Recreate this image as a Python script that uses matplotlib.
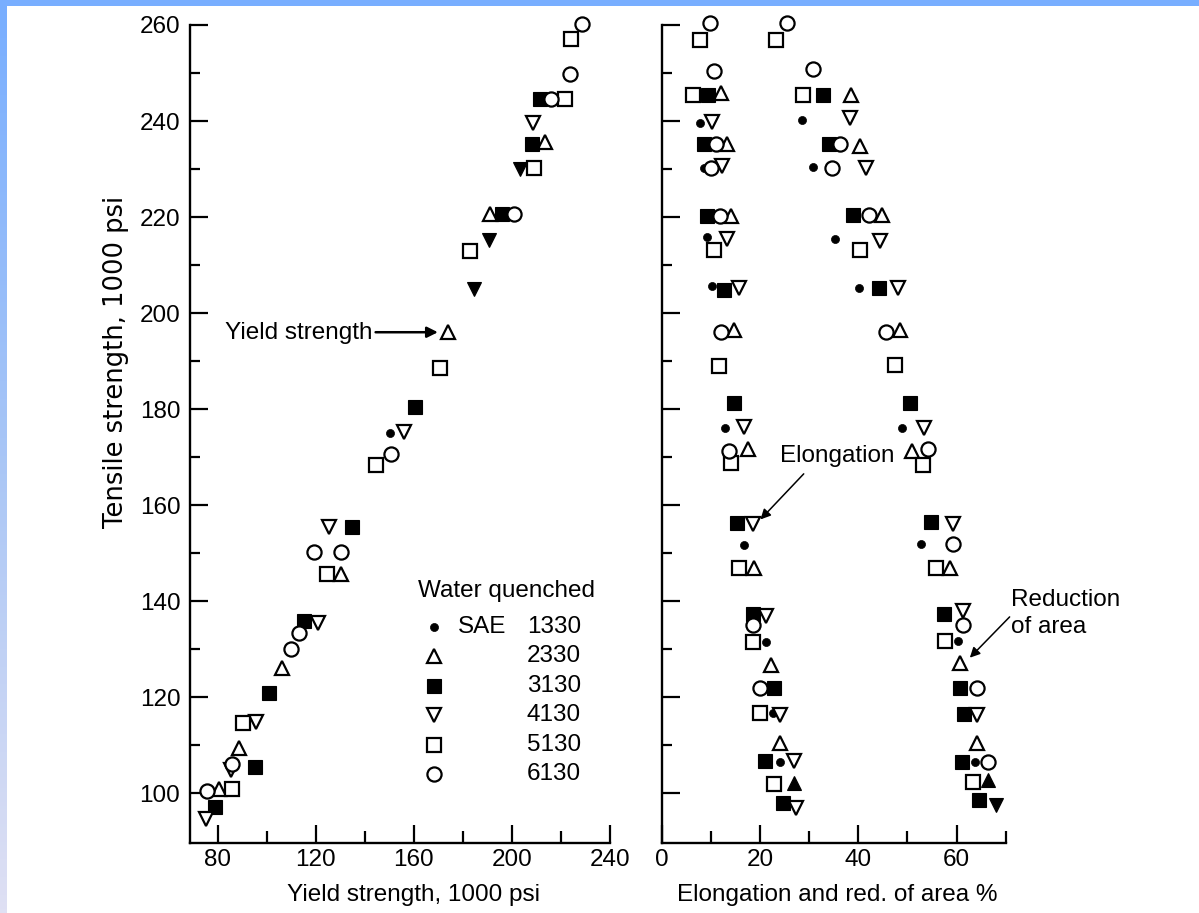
import matplotlib
matplotlib.use('Agg')
import matplotlib.pyplot as plt
import numpy as np
from matplotlib.colors import LinearSegmentedColormap
from matplotlib.patches import Rectangle

plt.rcParams['font.family'] = ['Liberation Sans', 'DejaVu Sans']

# ---------------- data ----------------
# Left panel: yield strength (x) vs tensile strength (y), 1000 psi
ys_1330 = [150.3]
ts_1330 = [175.0]
ys_2330 = [213.6, 190.9, 174.1, 130.3, 106.1, 88.8, 80.7]
ts_2330 = [235.7, 220.6, 196.1, 145.6, 126.0, 109.3, 100.8]
ys_3130 = [211.6, 208.2, 195.9, 160.5, 134.9, 115.2, 101.1, 95.2, 78.9]
ts_3130 = [244.6, 235.3, 220.6, 180.4, 155.5, 135.9, 120.9, 105.5, 97.1]
ys_4130 = [208.6, 156.0, 125.3, 120.8, 95.6, 85.4, 75.2]
ts_4130 = [239.6, 175.3, 155.5, 135.5, 114.9, 104.8, 94.5]
ys_5130 = [224.1, 221.8, 209.1, 183.0, 170.5, 144.5, 124.5, 90.2, 85.7]
ts_5130 = [257.1, 244.6, 230.3, 213.0, 188.6, 168.3, 145.6, 114.6, 100.8]
ys_6130 = [228.6, 223.5, 215.9, 200.7, 150.7, 119.4, 130.3, 113.3, 109.9, 85.7, 75.5]
ts_6130 = [260.2, 249.8, 244.6, 220.6, 170.6, 150.3, 150.3, 133.4, 130.1, 106.0, 100.4]
ys_fill_dn = [203.4, 190.5, 184.7]
ts_fill_dn = [230.1, 215.2, 205.1]

# Right panel: elongation % (x) vs tensile strength (y)
el_1330 = [7.8, 8.7, 9.3, 10.2, 12.9, 16.7, 21.2, 22.6, 24.0]
et_1330 = [239.6, 230.3, 215.9, 205.7, 176.1, 151.7, 131.4, 116.7, 106.4]
el_2330 = [12.1, 13.3, 14.2, 14.8, 17.6, 18.8, 22.2, 24.0]
et_2330 = [245.8, 235.2, 220.2, 196.5, 171.7, 146.8, 126.7, 110.4]
el_3130 = [9.5, 8.7, 9.3, 12.7, 14.8, 15.4, 18.5, 22.9, 21.0, 24.7]
et_3130 = [245.4, 235.2, 220.2, 204.8, 181.2, 156.2, 137.2, 121.8, 106.7, 97.9]
el_4130 = [10.2, 12.2, 13.3, 15.8, 16.8, 18.6, 21.2, 24.0, 26.9, 27.4]
et_4130 = [239.8, 230.7, 215.4, 205.3, 176.2, 156.0, 136.9, 116.3, 106.7, 96.9]
el_5130 = [7.8, 6.3, 10.6, 11.7, 14.2, 15.7, 18.5, 20.1, 22.8]
et_5130 = [256.9, 245.4, 213.1, 189.0, 168.7, 146.8, 131.5, 116.7, 101.8]
el_6130 = [9.8, 10.7, 11.0, 10.0, 11.8, 12.1, 13.7, 18.5, 20.0]
et_6130 = [260.5, 250.4, 235.2, 230.3, 220.2, 196.1, 171.3, 135.0, 121.8]
el_fill_up = [26.9]
et_fill_up = [102.0]

# Right panel: reduction of area % (x) vs tensile strength (y)
ra_1330 = [28.6, 30.8, 35.2, 40.2, 48.8, 52.8, 60.3, 63.7]
rt_1330 = [240.2, 230.5, 215.4, 205.3, 176.1, 151.8, 131.7, 106.4]
ra_2330 = [38.6, 40.4, 44.8, 48.4, 51.0, 58.6, 60.8, 64.1]
rt_2330 = [245.5, 234.8, 220.4, 196.5, 171.3, 146.8, 127.0, 110.4]
ra_3130 = [32.8, 34.0, 39.0, 44.2, 50.5, 54.7, 57.4, 60.6, 61.5, 61.2, 64.5]
rt_3130 = [245.4, 235.2, 220.4, 205.3, 181.3, 156.4, 137.2, 121.8, 116.4, 106.5, 98.5]
ra_4130 = [38.4, 41.5, 44.4, 48.0, 53.3, 59.3, 61.4, 64.2]
rt_4130 = [240.7, 230.3, 215.0, 205.3, 176.1, 156.1, 137.9, 116.3]
ra_5130 = [23.2, 28.8, 40.4, 47.4, 53.2, 55.8, 57.6, 63.3]
rt_5130 = [256.9, 245.4, 213.1, 189.2, 168.4, 146.8, 131.7, 102.4]
ra_6130 = [25.4, 30.8, 36.2, 34.6, 42.2, 45.7, 54.2, 59.3, 61.4, 64.1, 66.3]
rt_6130 = [260.5, 250.8, 235.2, 230.3, 220.4, 196.1, 171.6, 151.8, 135.1, 121.8, 106.5]
ra_fill_up = [66.4]
rt_fill_up = [102.7]
ra_fill_dn = [68.1]
rt_fill_dn = [97.5]

grades = ['1330', '2330', '3130', '4130', '5130', '6130']
x_ticks_left = [80, 120, 160, 200, 240]
x_ticks_right = [0, 20, 40, 60]
y_ticks = [100, 120, 140, 160, 180, 200, 220, 240, 260]

# ---------------- styles ----------------
MEW = 1.6
styles = {
    '1330': dict(marker='o', ms=5.8, mfc='black', mec='black', mew=0.5),
    '2330': dict(marker='^', ms=10.5, mfc='white', mec='black', mew=MEW),
    '3130': dict(marker='s', ms=9.5, mfc='black', mec='black', mew=0.8),
    '4130': dict(marker='v', ms=10.5, mfc='white', mec='black', mew=MEW),
    '5130': dict(marker='s', ms=9.6, mfc='white', mec='black', mew=MEW),
    '6130': dict(marker='o', ms=10.2, mfc='white', mec='black', mew=MEW),
}
fill_dn = dict(marker='v', ms=10, mfc='black', mec='black', mew=0.8)
fill_up = dict(marker='^', ms=10, mfc='black', mec='black', mew=0.8)

left_data = {'1330': (ys_1330, ts_1330), '2330': (ys_2330, ts_2330),
             '3130': (ys_3130, ts_3130), '4130': (ys_4130, ts_4130),
             '5130': (ys_5130, ts_5130), '6130': (ys_6130, ts_6130)}
el_data = {'1330': (el_1330, et_1330), '2330': (el_2330, et_2330),
           '3130': (el_3130, et_3130), '4130': (el_4130, et_4130),
           '5130': (el_5130, et_5130), '6130': (el_6130, et_6130)}
ra_data = {'1330': (ra_1330, rt_1330), '2330': (ra_2330, rt_2330),
           '3130': (ra_3130, rt_3130), '4130': (ra_4130, rt_4130),
           '5130': (ra_5130, rt_5130), '6130': (ra_6130, rt_6130)}

FS = 17.5
W, H = 1199, 913
fig = plt.figure(figsize=(W / 100, H / 100), dpi=100)
fig.patch.set_facecolor('white')

# decorative blue border (top strip + left gradient strip)
gax = fig.add_axes([0, 0, 7 / W, 1])
gax.axis('off')
cmap = LinearSegmentedColormap.from_list('edge', ['#78aeff', '#a9c6f6', '#dfe0f3'])
gax.imshow(np.linspace(0, 1, 256)[:, None], aspect='auto', cmap=cmap,
           extent=[0, 1, 0, 1], origin='upper')
fig.patches.append(Rectangle((0, 1 - 6 / H), 1, 6 / H, transform=fig.transFigure,
                             facecolor='#78aeff', edgecolor='none', zorder=0))

axL = fig.add_axes([190 / W, 70 / H, 420 / W, 818 / H])
axR = fig.add_axes([661.7 / W, 70 / H, 344 / W, 818 / H])

for g in grades:
    x, y = left_data[g]
    axL.plot(x, y, ls='none', clip_on=False, zorder=3, **styles[g])
axL.plot(ys_fill_dn, ts_fill_dn, ls='none', clip_on=False, zorder=2, **fill_dn)

for g in grades:
    x, y = el_data[g]
    axR.plot(x, y, ls='none', clip_on=False, zorder=3, **styles[g])
    x, y = ra_data[g]
    axR.plot(x, y, ls='none', clip_on=False, zorder=3, **styles[g])
axR.plot(el_fill_up, et_fill_up, ls='none', clip_on=False, zorder=3, **fill_up)
axR.plot(ra_fill_up, rt_fill_up, ls='none', clip_on=False, zorder=3, **fill_up)
axR.plot(ra_fill_dn, rt_fill_dn, ls='none', clip_on=False, zorder=3, **fill_dn)

axL.set_xlim(68.7, 240)
axR.set_xlim(0, 70)
for ax in (axL, axR):
    ax.set_ylim(89.6, 260)
    ax.set_yticks(y_ticks)
    ax.set_yticks(np.arange(110, 260, 20), minor=True)
    for s in ('top', 'right'):
        ax.spines[s].set_visible(False)
    for s in ('left', 'bottom'):
        ax.spines[s].set_linewidth(1.7)
    ax.tick_params(which='major', direction='in', length=13, width=1.6,
                   labelsize=FS)
    ax.tick_params(which='minor', direction='in', length=7.5, width=1.6)
    ax.tick_params(axis='x', which='minor', length=8.5)
    ax.tick_params(axis='x', pad=4)
    ax.tick_params(axis='y', pad=7)
    ax.set_facecolor('none')

axL.set_xticks(x_ticks_left)
axL.set_xticks([100, 140, 180, 220], minor=True)
axR.set_xticks(x_ticks_right)
axR.set_xticks([10, 30, 50, 70], minor=True)
axR.tick_params(labelleft=False)

axL.set_xlabel('Yield strength, 1000 psi', fontsize=FS)
axL.xaxis.set_label_coords(0.533, -0.050)
axR.set_xlabel('Elongation and red. of area %', fontsize=FS)
axR.xaxis.set_label_coords(0.511, -0.050)
axL.text(-0.176, 0.588, 'Tensile strength, 1000 psi', transform=axL.transAxes,
         rotation=90, ha='center', va='center', fontsize=18.5,
         family=['DejaVu Sans'])

# legend (manual layout)
lx_marker, lx_sae, lx_num = 0.581, 0.638, 0.931
ly0, dly = 0.2644, 0.03606
axL.text(0.7536, 0.3084, 'Water quenched', transform=axL.transAxes,
         ha='center', va='center', fontsize=FS)
for i, g in enumerate(grades):
    yy = ly0 - i * dly
    axL.plot([lx_marker], [yy], transform=axL.transAxes, ls='none',
             clip_on=False, **styles[g])
    axL.text(lx_num, yy, g, transform=axL.transAxes, ha='right',
             va='center', fontsize=FS)
axL.text(lx_sae, ly0, 'SAE', transform=axL.transAxes, ha='left',
         va='center', fontsize=FS)

# annotations
axL.annotate('', xy=(169.8, 196.0), xytext=(144.4, 196.0),
             arrowprops=dict(arrowstyle='-|>', lw=1.8, color='black',
                             mutation_scale=16, shrinkA=0, shrinkB=0))
axL.text(143.0, 195.8, 'Yield strength', ha='right', va='center', fontsize=FS)

axR.text(24.0, 170.2, 'Elongation', ha='left', va='center', fontsize=FS)
axR.annotate('', xy=(20.1, 157.0), xytext=(28.9, 166.5),
             arrowprops=dict(arrowstyle='-|>', lw=1.1, color='black',
                             mutation_scale=15, shrinkA=0, shrinkB=0))

axR.text(71.1, 137.4, 'Reduction\nof area', ha='left', va='center',
         fontsize=FS, linespacing=1.3, clip_on=False)
axR.annotate('', xy=(62.7, 128.2), xytext=(70.8, 136.7),
             arrowprops=dict(arrowstyle='-|>', lw=1.1, color='black',
                             mutation_scale=15, shrinkA=0, shrinkB=0),
             annotation_clip=False)

fig.savefig('out.png', dpi=100, facecolor='white')
